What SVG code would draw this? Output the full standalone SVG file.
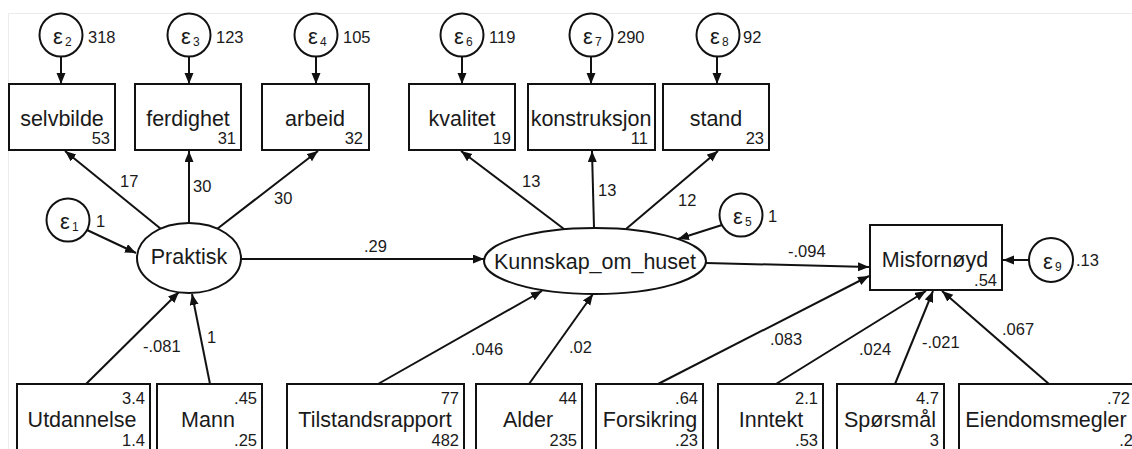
<svg xmlns="http://www.w3.org/2000/svg" width="1132" height="449" viewBox="0 0 1132 449">
  <style>
    .frame { fill: none; stroke: #ececec; stroke-width: 1; }
    .box { fill: #ffffff; stroke: #111111; stroke-width: 2; }
    .latent { fill: #ffffff; stroke: #111111; stroke-width: 2; }
    .err { fill: #ffffff; stroke: #111111; stroke-width: 2; }
    .edge { fill: none; stroke: #111111; stroke-width: 2; marker-end: url(#arrow); }
    text { font-family: "Liberation Sans", Arial, sans-serif; fill: #1a1a1a; }
    .name { font-size: 21.5px; text-anchor: middle; }
    .num { font-size: 16.5px; }
    .rnum { font-size: 16.5px; text-anchor: end; }
    .eps { font-size: 22px; text-anchor: middle; }
    .sub { font-size: 12px; }
  </style>
  <defs>
    <marker id="arrow" markerUnits="userSpaceOnUse" markerWidth="12" markerHeight="10" refX="11" refY="4.5" orient="auto">
      <path d="M0,0 L11,4.5 L0,9 z" fill="#111111"/>
    </marker>
  </defs>

  <rect width="1132" height="449" fill="#ffffff"/>
  <path class="frame" d="M8.5,449 V13.5 H1132"/>

  <!-- connectors -->
  <g id="connectors">
    <!-- error terms into indicators -->
    <line class="edge" x1="61" y1="57" x2="61" y2="84"/>
    <line class="edge" x1="189" y1="57" x2="189" y2="84"/>
    <line class="edge" x1="316" y1="57" x2="316" y2="84"/>
    <line class="edge" x1="462" y1="57" x2="462" y2="84"/>
    <line class="edge" x1="591" y1="57" x2="591" y2="84"/>
    <line class="edge" x1="717" y1="57" x2="717" y2="84"/>
    <!-- Praktisk loadings -->
    <line class="edge" x1="161" y1="229" x2="65" y2="151"/>
    <line class="edge" x1="189" y1="223" x2="189" y2="151"/>
    <line class="edge" x1="217" y1="229" x2="318" y2="151"/>
    <!-- Kunnskap_om_huset loadings -->
    <line class="edge" x1="564" y1="229" x2="461" y2="151"/>
    <line class="edge" x1="594" y1="228" x2="592" y2="151"/>
    <line class="edge" x1="626" y1="229" x2="718" y2="151"/>
    <!-- disturbances -->
    <line class="edge" x1="87" y1="230" x2="136" y2="253"/>
    <line class="edge" x1="722" y1="225" x2="678" y2="239"/>
    <line class="edge" x1="1029" y1="260" x2="1003" y2="260"/>
    <!-- structural paths -->
    <line class="edge" x1="241" y1="259" x2="484" y2="259"/>
    <line class="edge" x1="706" y1="263" x2="869" y2="267"/>
    <!-- exogenous predictors -->
    <line class="edge" x1="86" y1="384" x2="179" y2="292"/>
    <line class="edge" x1="210" y1="384" x2="192" y2="294"/>
    <line class="edge" x1="378" y1="384" x2="542" y2="291"/>
    <line class="edge" x1="529" y1="384" x2="593" y2="294"/>
    <line class="edge" x1="658" y1="384" x2="869" y2="276"/>
    <line class="edge" x1="776" y1="384" x2="926" y2="291"/>
    <line class="edge" x1="895" y1="384" x2="933" y2="291"/>
    <line class="edge" x1="1049" y1="384" x2="942" y2="291"/>
  </g>

  <!-- path coefficients -->
  <g id="edge-labels">
    <text class="num" x="120" y="187">17</text>
    <text class="num" x="193" y="192">30</text>
    <text class="num" x="274" y="204">30</text>
    <text class="num" x="522" y="187">13</text>
    <text class="num" x="598" y="196">13</text>
    <text class="num" x="678" y="206">12</text>
    <text class="num" x="364" y="252">.29</text>
    <text class="num" x="788" y="257">-.094</text>
    <text class="num" x="143" y="352">-.081</text>
    <text class="num" x="207" y="343">1</text>
    <text class="num" x="471" y="355">.046</text>
    <text class="num" x="569" y="353">.02</text>
    <text class="num" x="770" y="345">.083</text>
    <text class="num" x="859" y="355">.024</text>
    <text class="num" x="922" y="348">-.021</text>
    <text class="num" x="1002" y="335">.067</text>
  </g>

  <!-- error terms -->
  <g id="e2"><circle class="err" cx="61" cy="35" r="21.5"/><text class="eps" x="58" y="44">ε</text><text class="sub" x="65" y="46">2</text><text class="num" x="88" y="43">318</text></g>
  <g id="e3"><circle class="err" cx="189" cy="35" r="21.5"/><text class="eps" x="186" y="44">ε</text><text class="sub" x="193" y="46">3</text><text class="num" x="216" y="43">123</text></g>
  <g id="e4"><circle class="err" cx="316" cy="35" r="21.5"/><text class="eps" x="313" y="44">ε</text><text class="sub" x="320" y="46">4</text><text class="num" x="343" y="43">105</text></g>
  <g id="e6"><circle class="err" cx="462" cy="35" r="21.5"/><text class="eps" x="459" y="44">ε</text><text class="sub" x="466" y="46">6</text><text class="num" x="489" y="43">119</text></g>
  <g id="e7"><circle class="err" cx="591" cy="35" r="21.5"/><text class="eps" x="588" y="44">ε</text><text class="sub" x="595" y="46">7</text><text class="num" x="617" y="43">290</text></g>
  <g id="e8"><circle class="err" cx="718" cy="35" r="21.5"/><text class="eps" x="715" y="44">ε</text><text class="sub" x="722" y="46">8</text><text class="num" x="743" y="43">92</text></g>
  <g id="e1"><circle class="err" cx="68" cy="220" r="21.5"/><text class="eps" x="65" y="229">ε</text><text class="sub" x="72" y="231">1</text><text class="num" x="96" y="227">1</text></g>
  <g id="e5"><circle class="err" cx="741" cy="215" r="21.5"/><text class="eps" x="738" y="224">ε</text><text class="sub" x="745" y="226">5</text><text class="num" x="768" y="222">1</text></g>
  <g id="e9"><circle class="err" cx="1051" cy="260" r="22"/><text class="eps" x="1048" y="269">ε</text><text class="sub" x="1055" y="271">9</text><text class="num" x="1076" y="266">.13</text></g>

  <!-- indicators -->
  <g id="selvbilde"><rect class="box" x="9" y="84" width="106" height="66"/><text class="name" x="62" y="126">selvbilde</text><text class="rnum" x="110" y="144">53</text></g>
  <g id="ferdighet"><rect class="box" x="135" y="84" width="106" height="66"/><text class="name" x="188" y="126">ferdighet</text><text class="rnum" x="236" y="144">31</text></g>
  <g id="arbeid"><rect class="box" x="262" y="84" width="107" height="66"/><text class="name" x="315" y="126">arbeid</text><text class="rnum" x="363" y="144">32</text></g>
  <g id="kvalitet"><rect class="box" x="409" y="84" width="106" height="66"/><text class="name" x="462" y="126">kvalitet</text><text class="rnum" x="511" y="144">19</text></g>
  <g id="konstruksjon"><rect class="box" x="528" y="84" width="127" height="66"/><text class="name" x="591" y="126">konstruksjon</text><text class="rnum" x="648" y="144">11</text></g>
  <g id="stand"><rect class="box" x="663" y="84" width="106" height="66"/><text class="name" x="716" y="126">stand</text><text class="rnum" x="764" y="144">23</text></g>

  <!-- latent variables -->
  <g id="praktisk"><ellipse class="latent" cx="189" cy="258" rx="52" ry="35"/><text class="name" x="189" y="264">Praktisk</text></g>
  <g id="kunnskap_om_huset"><ellipse class="latent" cx="595" cy="261" rx="111" ry="33"/><text class="name" x="595" y="269">Kunnskap_om_huset</text></g>

  <!-- outcome -->
  <g id="misfornoyd"><rect class="box" x="870" y="225" width="132" height="65"/><text class="name" x="935" y="267">Misfornøyd</text><text class="rnum" x="997" y="286">.54</text></g>

  <!-- exogenous predictors -->
  <g id="utdannelse"><rect class="box" x="17" y="384" width="133" height="80"/><text class="rnum" x="145" y="404">3.4</text><text class="name" x="82" y="427">Utdannelse</text><text class="rnum" x="145" y="446">1.4</text></g>
  <g id="mann"><rect class="box" x="157" y="384" width="105" height="80"/><text class="rnum" x="257" y="404">.45</text><text class="name" x="208" y="427">Mann</text><text class="rnum" x="257" y="446">.25</text></g>
  <g id="tilstandsrapport"><rect class="box" x="287" y="384" width="177" height="80"/><text class="rnum" x="459" y="404">77</text><text class="name" x="375" y="427">Tilstandsrapport</text><text class="rnum" x="459" y="446">482</text></g>
  <g id="alder"><rect class="box" x="476" y="384" width="106" height="80"/><text class="rnum" x="577" y="404">44</text><text class="name" x="528" y="427">Alder</text><text class="rnum" x="577" y="446">235</text></g>
  <g id="forsikring"><rect class="box" x="596" y="384" width="107" height="80"/><text class="rnum" x="698" y="404">.64</text><text class="name" x="650" y="427">Forsikring</text><text class="rnum" x="698" y="446">.23</text></g>
  <g id="inntekt"><rect class="box" x="718" y="384" width="105" height="80"/><text class="rnum" x="818" y="404">2.1</text><text class="name" x="771" y="427">Inntekt</text><text class="rnum" x="818" y="446">.53</text></g>
  <g id="sporsmal"><rect class="box" x="837" y="384" width="107" height="80"/><text class="rnum" x="939" y="404">4.7</text><text class="name" x="890" y="427">Spørsmål</text><text class="rnum" x="939" y="446">3</text></g>
  <g id="eiendomsmegler"><rect class="box" x="959" y="384" width="180" height="80"/><text class="rnum" x="1130" y="404">.72</text><text class="name" x="1046" y="427">Eiendomsmegler</text><text class="rnum" x="1133" y="446">.2</text></g>
</svg>
